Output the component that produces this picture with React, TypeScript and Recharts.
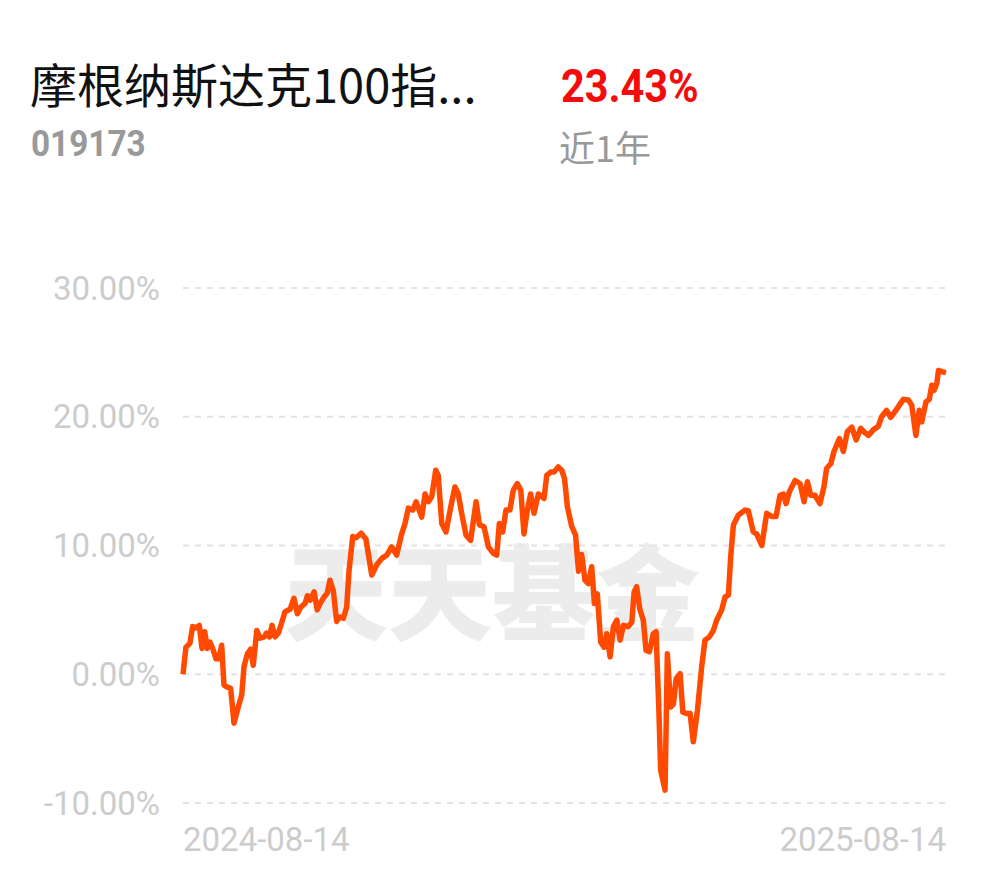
import { CartesianGrid, Line, LineChart, XAxis, YAxis } from "recharts";

const fundName = "摩根纳斯达克100指...";
const fundCode = "019173";
const periodReturn = "23.43%";
const periodLabel = "近1年";
const dateLabels = ["2024-08-14", "2025-08-14"];
const yTicks = [-10, 0, 10, 20, 30];

// days since 2024-08-14
const days = [
  0, 1.4, 3.3, 4.6, 6.2, 7.8, 9.1, 10.4, 11.6, 12.9, 14.2, 15.8, 17.1, 18.5, 19.6, 21.2, 22.8, 24.4, 26.5, 28.1,
  29.2, 30.8, 32.4, 33.6, 35.3, 36.8, 38.8, 40.0, 41.3, 42.6, 44.0, 45.6, 47.2, 48.8, 51.2, 53.1, 54.7, 56.3, 58.4,
  59.5, 60.8, 62.7, 64.2, 65.9, 67.5, 69.0, 70.3, 71.9, 73.5, 75.1, 76.7, 78.3, 79.4, 81.2, 82.8, 85.2, 87.5, 90.3,
  92.7, 95.1, 97.5, 99.8, 102.2, 104.6, 106.2, 107.8, 109.9, 111.5, 114.2, 115.8, 117.4, 119.0, 120.9, 122.1, 123.8,
  125.8, 128.1, 130.1, 131.7, 133.3, 135.4, 137.6, 140.2, 141.8, 144.0, 146.1, 148.4, 150.1, 151.3, 152.9, 154.5,
  156.4, 158.0, 159.9, 161.6, 163.1, 164.7, 166.3, 167.9, 170.0, 171.6, 172.7, 174.0, 175.9, 177.5, 179.5, 181.2,
  182.5, 183.9, 185.9, 187.8, 189.2, 190.7, 192.3, 193.9, 195.5, 196.8, 198.2, 199.8, 201.4, 202.7, 204.3, 205.9,
  207.5, 209.1, 210.7, 213.0, 214.7, 215.8, 217.0, 218.6, 220.2, 221.5, 223.1, 225.0, 226.3, 227.6, 228.5, 230.6,
  231.7, 233.3, 234.6, 235.9, 237.8, 239.1, 241.0, 242.6, 244.1, 246.1, 248.1, 249.7, 251.8, 253.7, 255.3, 257.7,
  259.3, 260.9, 262.0, 263.3, 265.6, 268.8, 270.4, 272.8, 274.4, 276.9, 279.2, 281.6, 283.7, 285.6, 287.2, 288.5,
  290.0, 292.8, 295.2, 297.1, 298.7, 300.3, 302.3, 304.7, 306.6, 307.9, 309.9, 311.4, 314.0, 315.9, 317.8, 319.9,
  322.0, 324.2, 326.3, 327.9, 330.3, 332.6, 334.2, 336.6, 338.5, 340.6, 342.7, 344.6, 347.0, 348.6, 350.6, 352.2,
  353.4, 355.4, 357.0, 358.2, 359.3, 360.6, 361.4, 363.0, 365,
];

// cumulative return, %
const returns = [
  0, 2.1, 2.4, 3.7, 3.6, 3.8, 2.0, 3.3, 2.0, 2.5, 2.0, 1.2, 1.2, 2.25, -0.85, -1.0, -1.1, -3.8, -2.5, -1.6,
  0.6, 1.6, 1.95, 0.7, 3.4, 2.8, 2.9, 3.2, 2.9, 3.8, 2.9, 3.2, 4.0, 4.85, 5.05, 5.9, 4.7, 5.2, 5.5,
  6.1, 5.75, 6.4, 5.0, 5.6, 6.0, 6.3, 7.3, 6.5, 4.1, 4.45, 4.35, 5.2, 8.0, 10.7, 10.6, 10.95, 10.5, 7.7,
  8.5, 9.0, 9.25, 9.9, 9.25, 10.9, 11.7, 12.9, 12.75, 13.4, 12.2, 14.0, 13.4, 13.8, 15.85, 15.45, 11.7,
  11.05, 13.0, 14.55, 14.0, 12.5, 10.8, 10.4, 13.4, 11.6, 11.45, 9.9, 9.4, 9.25, 11.7, 11.05, 12.75,
  12.75, 14.3, 14.8, 14.3, 10.9, 12.75, 14.0, 12.5, 14.0, 13.8, 13.65, 15.45, 15.7, 15.7, 16.1, 15.85,
  15.2, 13.0, 11.5, 10.8, 8.0, 9.3, 7.3, 7.05, 8.35, 5.5, 6.25, 2.5, 2.1, 3.15, 1.35, 3.7,
  4.2, 2.65, 3.8, 3.7, 4.05, 6.4, 6.8, 5.0, 4.2, 1.85, 1.75, 3.15, 3.3, -2.55, -7.45, -9.0,
  1.6, -2.55, -2.3, -0.35, 0.05, -2.95, -3.05, -3.05, -5.25, -2.8, 0.55, 2.65, 2.9, 3.4, 4.2, 5.0,
  6.0, 6.15, 9.1, 11.6, 12.35, 12.75, 12.7, 11.05, 10.9, 10.0, 12.5, 12.25, 12.25, 13.9, 14.0, 13.25,
  14.15, 15.05, 14.8, 13.4, 14.95, 13.9, 13.9, 13.25, 14.55, 16.0, 16.35, 17.3, 18.3, 17.3, 18.85, 19.2,
  18.2, 19.1, 18.75, 18.55, 19.0, 19.25, 20.0, 20.5, 19.95, 20.4, 20.9, 21.35, 21.3, 20.9, 18.55, 20.5,
  19.6, 21.15, 21.35, 22.45, 22.05, 22.6, 23.6, 23.5, 23.43,
];

const data = days.map((day, i) => ({ day, value: returns[i] }));

const DateTick = (props: any) => {
  const { x, y, payload, index } = props;
  const last = index === dateLabels.length - 1;
  return (
    <text
      x={x}
      y={y}
      dy={40}
      textAnchor={last ? "end" : "start"}
      fill="#cccccc"
      fontSize={33}
      fontFamily="Roboto"
    >
      {payload.value === 0 ? dateLabels[0] : dateLabels[1]}
    </text>
  );
};

export default function App() {
  return (
    <div style={{ position: "absolute", left: 0, top: 0, width: 990, height: 878, background: "#fff", overflow: "hidden" }}>
      <div style={{ position: "absolute", left: 30, top: 55, fontFamily: "'Noto Sans CJK SC'", fontSize: 47, lineHeight: "56px", color: "#111", whiteSpace: "nowrap" }}>
        {fundName}
      </div>
      <div
        style={{
          position: "absolute",
          left: 31,
          top: 124,
          fontFamily: "Roboto",
          fontWeight: 700,
          fontSize: 37,
          lineHeight: "40px",
          color: "#999",
          transform: "scaleX(0.9)",
          transformOrigin: "left",
        }}
      >
        {fundCode}
      </div>
      <div
        style={{
          position: "absolute",
          left: 561,
          top: 60,
          fontFamily: "Roboto",
          fontWeight: 700,
          fontSize: 46,
          lineHeight: "52px",
          color: "#f40c0c",
          transform: "scaleX(0.9)",
          transformOrigin: "left",
        }}
      >
        {periodReturn}
      </div>
      <div style={{ position: "absolute", left: 559, top: 124, fontFamily: "'Noto Sans CJK SC'", fontSize: 36, lineHeight: "44px", color: "#999" }}>
        {periodLabel}
      </div>
      <div
        style={{
          position: "absolute",
          left: 284,
          top: 528,
          fontFamily: "'Noto Sans CJK SC'",
          fontWeight: 900,
          fontSize: 104,
          lineHeight: "120px",
          color: "#ececec",
          whiteSpace: "nowrap",
        }}
      >
        天天基金
      </div>
      <div style={{ position: "absolute", left: 0, top: 0 }}>
        <LineChart width={990} height={878} data={data} margin={{ top: 288, right: 44, bottom: 0, left: 0 }}>
          <CartesianGrid horizontal vertical={false} stroke="#e3e3e3" strokeWidth={2} strokeDasharray="6 6" />
          <XAxis
            dataKey="day"
            type="number"
            domain={[0, 365]}
            ticks={[0, 365]}
            height={75}
            axisLine={false}
            tickLine={false}
            tick={<DateTick />}
            interval={0}
          />
          <YAxis
            domain={[-10, 30]}
            ticks={yTicks}
            width={183}
            axisLine={false}
            tickLine={false}
            tickSize={0}
            tickMargin={23}
            tickFormatter={(v: number) => `${v.toFixed(2)}%`}
            tick={{ fill: "#cccccc", fontSize: 33, fontFamily: "Roboto" }}
          />
          <Line
            type="linear"
            dataKey="value"
            stroke="#ff4a00"
            strokeWidth={5.5}
            dot={false}
            strokeLinejoin="round"
            isAnimationActive={false}
          />
        </LineChart>
      </div>
    </div>
  );
}
